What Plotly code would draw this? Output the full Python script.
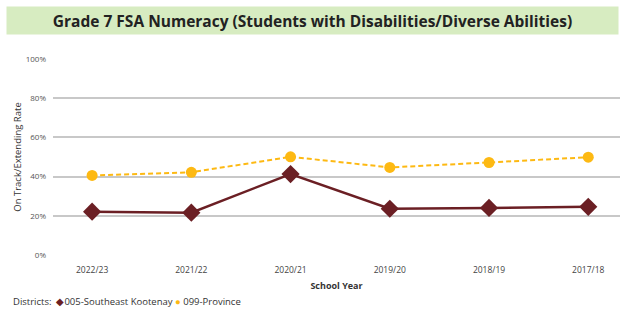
import plotly.graph_objects as go

years = ["2022/23", "2021/22", "2020/21", "2019/20", "2018/19", "2017/18"]
district = [22.1, 21.6, 41.3, 23.6, 24.0, 24.6]
province = [40.6, 42.2, 50.1, 44.7, 47.2, 49.9]
y_ticks = [0, 20, 40, 60, 80, 100]
y_tick_labels = ["0%", "20%", "40%", "60%", "80%", "100%"]

maroon = "#6B1F24"
gold = "#FDB913"
font = "Open Sans"

fig = go.Figure()
fig.add_trace(go.Scatter(
    x=years, y=province, mode="lines+markers", name="099-Province",
    line=dict(color=gold, width=2, dash="5px,3px"),
    marker=dict(symbol="circle", size=11, color=gold)))
fig.add_trace(go.Scatter(
    x=years, y=district, mode="lines+markers", name="005-Southeast Kootenay",
    line=dict(color=maroon, width=2.5),
    marker=dict(symbol="diamond", size=14, color=maroon)))

legend_text = ("Districts:  <span style='color:%s'>◆</span>005-Southeast Kootenay "
               "<span style='color:%s'>●</span> 099-Province") % (maroon, gold)

fig.update_layout(
    width=623, height=310,
    margin=dict(l=53, r=3, t=59, b=55, autoexpand=False),
    paper_bgcolor="white", plot_bgcolor="white",
    font=dict(family=font, color="#444"),
    showlegend=False,
    annotations=[
        dict(text="<b>Grade 7 FSA Numeracy (Students with Disabilities/Diverse Abilities)</b>",
             xref="paper", yref="paper", x=0.5, xanchor="center",
             y=1.0, yanchor="bottom", yshift=24,
             showarrow=False, font=dict(size=15.5, color="#222", family=font),
             bgcolor="#d7ecc1", width=609, height=25, xshift=-24),
        dict(text=legend_text, xref="paper", yref="paper", x=0, xanchor="left",
             xshift=-42, y=0, yanchor="top", yshift=-38, showarrow=False,
             font=dict(size=9.5, color="#333", family=font)),
    ],
)
fig.update_xaxes(
    type="category", range=[-0.394, 5.32],
    showgrid=False, zeroline=False, showline=False, ticks="",
    tickfont=dict(size=8.5, color="#444"), automargin=False, ticklabelstandoff=8,
    title=dict(text="<b>School Year</b>", font=dict(size=9, color="#333"), standoff=9),
)
fig.update_yaxes(
    range=[0, 100], tickvals=y_ticks, ticktext=y_tick_labels,
    showgrid=True, gridcolor="#c8c8c8", gridwidth=1.5, zeroline=False,
    tickfont=dict(size=8, color="#555"), ticks="", ticklabelstandoff=6, automargin=False,
    title=dict(text="On Track/Extending Rate", font=dict(size=9.5, color="#333"), standoff=2),
)

fig.write_html("out.html", config={"displayModeBar": False},
               post_script="document.body.style.margin='0';")
